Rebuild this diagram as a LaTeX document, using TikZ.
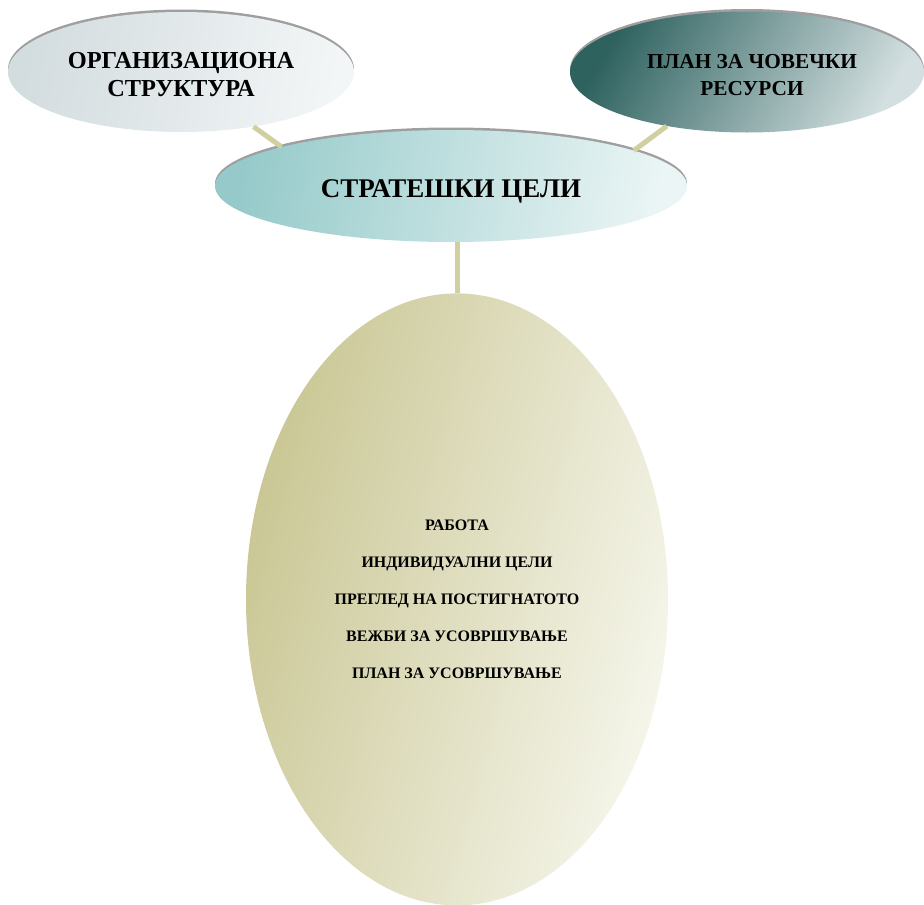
\documentclass[tikz,border=0pt]{standalone}
\usepackage{fontspec}
\setmainfont{Liberation Serif}
\usetikzlibrary{shapes.geometric,shadows,positioning}

\definecolor{linkcol}{HTML}{CFCF9F}
\definecolor{orgleft}{HTML}{D3DCDF}
\definecolor{orgright}{HTML}{F3F6F7}
\definecolor{hrleft}{HTML}{2E625F}
\definecolor{hrright}{HTML}{D3DFE0}
\definecolor{goalleft}{HTML}{96CACA}
\definecolor{goalright}{HTML}{EBF5F5}
\definecolor{workleft}{HTML}{C9C693}
\definecolor{workright}{HTML}{F6F6EC}

\newcommand{\dropline}[2]{\raisebox{-#1}[\height][\depth]{#2}}

\tikzset{
  bubble/.style={ellipse, inner sep=0pt, align=center, font=\bfseries,
    drop shadow={shadow xshift=0pt, shadow yshift=2.5pt, fill=gray!75, opacity=1}},
  link/.style={draw=linkcol, line width=5pt},
}

\begin{document}
\begin{tikzpicture}[x=1pt,y=-1pt]
  \useasboundingbox (0,0) rectangle (924,905);

  % Define nodes
  \node[bubble, minimum width=346pt, minimum height=120pt,
    left color=orgleft, right color=orgright, shading angle=80,
    font=\bfseries\fontsize{24.4}{28}\selectfont] (org) at (181,72)
    {\dropline{2.5pt}{ОРГАНИЗАЦИОНА}\\\dropline{2.5pt}{СТРУКТУРА}};
  \node[bubble, minimum width=354pt, minimum height=121pt,
    left color=hrleft, right color=hrright, shading angle=60,
    font=\bfseries\fontsize{21.3}{27}\selectfont] (hr) at (747,72)
    {\hspace*{10pt}\dropline{3pt}{ПЛАН ЗА ЧОВЕЧКИ}\\\hspace*{10pt}\dropline{3pt}{РЕСУРСИ}};
  \node[bubble, minimum width=472pt, minimum height=112pt,
    left color=goalleft, right color=goalright, shading angle=80,
    font=\bfseries\fontsize{27}{30}\selectfont] (goals) at (451,186)
    {\dropline{5pt}{СТРАТЕШКИ ЦЕЛИ}};
  \node[ellipse, inner sep=0pt, align=center, minimum width=422pt,
    minimum height=612pt, below=51pt of goals, xshift=6pt,
    left color=workleft, right color=workright, shading angle=75,
    font=\bfseries\fontsize{16}{16}\selectfont] (work)
    {РАБОТА\\[21pt] ИНДИВИДУАЛНИ ЦЕЛИ\\[21pt] ПРЕГЛЕД НА ПОСТИГНАТОТО\\[21pt]
     ВЕЖБИ ЗА УСОВРШУВАЊЕ\\[21pt] ПЛАН ЗА УСОВРШУВАЊЕ};

  % Connect the nodes
  \draw[link] (org.-37) -- (goals.167);
  \draw[link] (hr.-146) -- (goals.11);
  \draw[link] (work.north |- goals.south) -- (work.north);
\end{tikzpicture}
\end{document}
